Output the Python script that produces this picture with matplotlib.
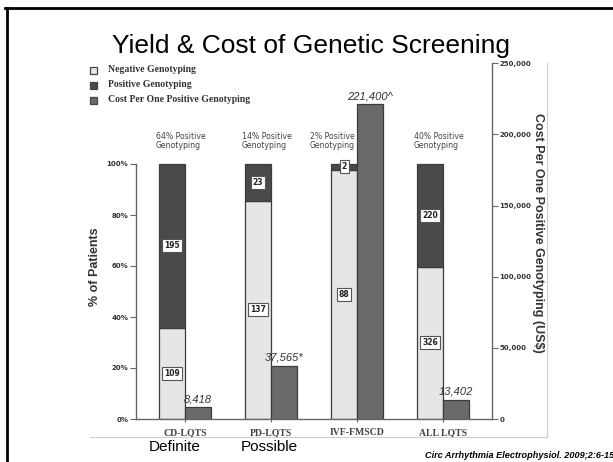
import matplotlib
matplotlib.use("Agg")
import matplotlib.pyplot as plt
from matplotlib.lines import Line2D
from matplotlib.patches import Rectangle

# data
groups = ["CD-LQTS", "PD-LQTS", "IVF-FMSCD", "ALL LQTS"]
subtitles = ["Definite", "Possible", "", ""]
negative = [109, 137, 88, 326]
positive = [195, 23, 2, 220]
yield_text = ["64% Positive\nGenotyping", "14% Positive\nGenotyping",
              "2% Positive\nGenotyping", "40% Positive\nGenotyping"]
cost = [8418, 37565, 221400, 13402]
cost_marks = ["", "*", "^", ""]

W, H = 613, 462
C_NEG, C_POS, C_COST, C_EDGE = "#e6e6e6", "#4a4a4a", "#6a6a6a", "#3c3c3c"

fig = plt.figure(figsize=(W / 100, H / 100), dpi=100)


def fx(px):
    return px / W


def fy(py):
    return 1 - py / H


# plot box: 0 at y=419px, 100% at 164px, 250,000 at 63px
ax = fig.add_axes([fx(136), fy(419), fx(491.7) - fx(136), (419 - 63.3) / H])
ax.set_facecolor("none")
ymax = 100 * (419 - 63.3) / (419 - 164)
ax.set_ylim(0, ymax)
ax.set_xlim(-0.57, 3.566)
bw = 0.302
off = bw / 2

pct_neg = [n / (n + p) * 100 for n, p in zip(negative, positive)]
pct_pos = [100 - v for v in pct_neg]
xs = list(range(len(groups)))
xl = [x - off for x in xs]

ax.bar(xl, pct_neg, bw, color=C_NEG, edgecolor=C_EDGE, linewidth=0.9, zorder=2)
ax.bar(xl, pct_pos, bw, bottom=pct_neg, color=C_POS, edgecolor=C_EDGE,
       linewidth=0.9, zorder=2)

box = dict(boxstyle="square,pad=0.25", fc="white", ec="#555555", lw=0.8)
for x, n, p, pn in zip(xl, negative, positive, pct_neg):
    ax.text(x, pn / 2, str(n), ha="center", va="center", fontsize=5.5,
            fontweight="bold", color="#222222", bbox=box, zorder=4)
    ax.text(x, pn + (100 - pn) / 2, str(p), ha="center", va="center",
            fontsize=5.5, fontweight="bold", color="#222222", bbox=box, zorder=4)

# yield annotations above the stacked bars
ytx = [x - bw / 2 - 0.035 for x in xl]
ytx[2] = xl[2] - bw / 2 - 0.25
for x, t in zip(ytx, yield_text):
    ax.text(x, 109, t, ha="left", va="center", fontsize=5.6, color="#444444",
            linespacing=1.1, family="DejaVu Sans")

for s in ["top", "right"]:
    ax.spines[s].set_visible(False)
ax.spines["left"].set_bounds(0, 100)
for s in ["left", "bottom"]:
    ax.spines[s].set_color("#666666")
    ax.spines[s].set_linewidth(1.0)
ax.set_yticks(range(0, 101, 20))
ax.set_yticklabels([f"{v}%" for v in range(0, 101, 20)])
ax.set_xticks(xs)
ax.set_xticklabels(groups, fontsize=7, fontweight="bold",
                   family="Liberation Serif", color="#444444")
ax.tick_params(axis="y", length=4, width=0.8, color="#666666", pad=1.5,
               labelsize=5, labelcolor="#333333")
ax.tick_params(axis="x", length=2.5, width=0.8, color="#666666", pad=4)
for lab in ax.get_yticklabels():
    lab.set_fontweight("bold")

# cost axis
ax2 = ax.twinx()
ax2.set_ylim(0, 250000)
ax2.bar([x + off for x in xs], cost, bw, color=C_COST, edgecolor=C_EDGE,
        linewidth=0.9, zorder=2)
for x, c, m in zip(xs, cost, cost_marks):
    ax2.text(x + off, c + 2100, f"{c:,}{m}", ha="center", va="bottom",
             fontsize=8, style="italic", color="#333333",
             family="Liberation Sans")
for s in ["top", "left", "bottom"]:
    ax2.spines[s].set_visible(False)
ax2.spines["right"].set_color("#666666")
ax2.spines["right"].set_linewidth(1.0)
ax2.set_yticks(range(0, 250001, 50000))
ax2.set_yticklabels([f"{v:,}" for v in range(0, 250001, 50000)])
ax2.tick_params(axis="y", length=4, width=0.8, color="#666666", pad=1.5,
                labelsize=5, labelcolor="#333333")
for lab in ax2.get_yticklabels():
    lab.set_fontweight("bold")

# axis titles
fig.text(fx(95), fy(267), "% of Patients", rotation=90, ha="center",
         va="center", fontsize=9, fontweight="bold", family="Liberation Sans",
         color="#333333")
fig.text(fx(538), fy(233), "Cost Per One Positive Genotyping (US$)",
         rotation=-90, ha="center", va="center", fontsize=9,
         fontweight="bold", family="Liberation Sans", color="#333333")

# legend
legend_items = [("Negative Genotyping", C_NEG),
                ("Positive Genotyping", C_POS),
                ("Cost Per One Positive Genotyping", C_COST)]
for i, (lab, col) in enumerate(legend_items):
    yc = 70 + 15 * i
    fig.add_artist(Rectangle((fx(90), fy(yc + 3.5)), 7 / W, 7 / H,
                             transform=fig.transFigure, fc=col,
                             ec="#444444", lw=0.9))
    fig.text(fx(108), fy(yc), lab, ha="left", va="center", fontsize=7,
             fontweight="bold", family="Liberation Serif", color="#333333")

# group subtitles, set a little left of the group centre
sub_shift = [-10, -2, 0, 0]
for x, s, d in zip(xs, subtitles, sub_shift):
    if s:
        xp = ax.transData.transform((x, 0))[0] + d
        fig.text(xp / W, fy(446.7), s, ha="center", va="center",
                 fontsize=11, family="Liberation Sans")

fig.text(fx(311), fy(53), "Yield & Cost of Genetic Screening", ha="center",
         va="baseline", fontsize=19, family="Liberation Sans")
fig.text(fx(425), fy(455), "Circ Arrhythmia Electrophysiol. 2009;2:6-15",
         ha="left", va="center", fontsize=6.6, fontweight="bold",
         style="italic", family="Liberation Sans")

# light frame of the chart panel
fig.add_artist(Line2D([fx(90), fx(547)], [fy(437), fy(437)],
                      transform=fig.transFigure, color="#cfcfcf", lw=0.8))
fig.add_artist(Line2D([fx(547), fx(547)], [fy(63), fy(437)],
                      transform=fig.transFigure, color="#cfcfcf", lw=0.8))
# slide border
fig.add_artist(Line2D([fx(6.5), fx(6.5)], [0, fy(7.5)],
                      transform=fig.transFigure, color="black", lw=2))
fig.add_artist(Line2D([fx(5.5), 1], [fy(7.5), fy(7.5)],
                      transform=fig.transFigure, color="black", lw=2))

fig.savefig("out.png", dpi=100)
